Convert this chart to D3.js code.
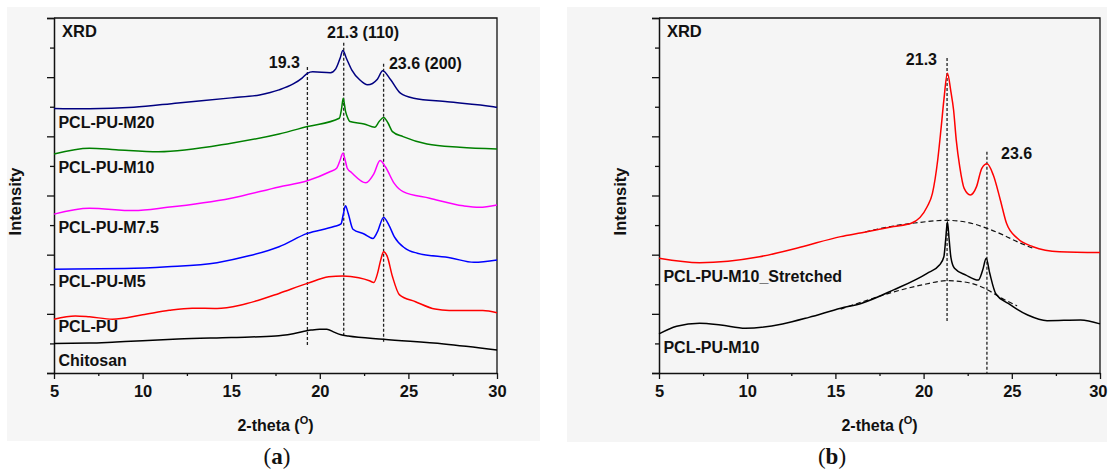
<!DOCTYPE html>
<html>
<head>
<meta charset="utf-8">
<script src="https://cdn.jsdelivr.net/npm/d3@7"></script>
<style>
  body { margin: 0; background: #fff; }
  svg { display: block; }
  text { font-family: "Liberation Sans", Arial, sans-serif; font-weight: bold; fill: #111; }
  .caption { font-family: "Liberation Serif", "Times New Roman", serif; font-weight: normal; }
</style>
</head>
<body>
<svg id="fig" width="1108" height="472"></svg>
<script>
// ---- XRD patterns: [2-theta (deg), intensity (a.u., stacked offset)] ----
const chitosan = [[5,1.00],[7,1.01],[8.5,1.05],[10,1.09],[12,1.15],[15,1.20],[17.5,1.25],[18.5,1.33],[19.5,1.45],[20,1.48],[20.4,1.48],[20.8,1.38],[21.2,1.29],[21.6,1.25],[23.6,1.14],[27,0.98],[30,0.78]];
const pclPU = [[5,1.82],[6.2,1.93],[7,1.90],[8.3,1.82],[10,1.97],[11.5,2.12],[12.8,2.19],[14.2,2.18],[15.5,2.29],[16.5,2.45],[17.7,2.69],[19.3,3.03],[20.5,3.25],[21.3,3.28],[22.2,3.22],[22.8,3.12],[23.05,3.06],[23.25,3.35],[23.45,3.85],[23.6,4.10],[23.8,3.95],[24.1,3.26],[24.5,2.64],[25.4,2.41],[26.5,2.16],[27.3,2.11],[29.2,2.11],[30,2.04]];
const pclPUM5 = [[5,3.51],[9,3.53],[11.4,3.59],[14.2,3.73],[16,3.96],[17.7,4.27],[19.3,4.72],[20.8,4.95],[21.2,5.04],[21.32,5.35],[21.45,5.65],[21.6,5.40],[21.87,4.86],[22.5,4.70],[23.0,4.55],[23.25,4.77],[23.6,5.26],[23.9,5.00],[24.2,4.61],[24.8,4.22],[25.5,4.05],[27.4,3.89],[28.7,3.74],[30,3.82]];
const pclPUM75 = [[5,5.37],[7,5.57],[9.5,5.49],[11.4,5.60],[15,5.91],[17.7,6.29],[19.3,6.50],[20.6,6.81],[20.95,6.92],[21.15,7.20],[21.3,7.43],[21.45,7.15],[21.55,6.92],[21.8,6.77],[22.6,6.43],[23.05,6.73],[23.4,7.18],[23.7,6.97],[24.2,6.41],[24.7,6.13],[26.2,5.91],[28.1,5.65],[29,5.60],[30,5.68]];
const pclPUM10 = [[5,7.40],[7,7.60],[8.5,7.55],[10.9,7.48],[15,7.77],[17.7,8.08],[19.3,8.33],[21.1,8.61],[21.22,8.90],[21.32,9.29],[21.45,8.85],[21.55,8.66],[21.7,8.50],[22.5,8.42],[23.1,8.31],[23.35,8.50],[23.6,8.64],[23.85,8.45],[24.1,8.16],[24.7,7.99],[26.05,7.74],[27.9,7.63],[30,7.57]];
const pclPUM20 = [[5,8.94],[7,8.93],[9.5,8.98],[12,9.13],[15,9.30],[16.6,9.40],[17.7,9.57],[18.5,9.77],[19,9.97],[19.3,10.13],[19.6,10.18],[20.6,10.15],[20.9,10.28],[21.15,10.65],[21.3,10.90],[21.5,10.64],[21.8,10.25],[22.25,9.91],[22.7,9.74],[23.25,9.93],[23.55,10.22],[24,9.91],[24.55,9.46],[25.3,9.29],[27.2,9.17],[29.8,9.00],[30,8.98]];

const m10Stretched = [[5,3.88],[7.3,3.73],[10.7,3.93],[13,4.25],[15.3,4.61],[16.5,4.74],[18.3,4.95],[19.3,5.06],[20.2,5.62],[20.5,6.07],[20.8,7.20],[21.0,8.33],[21.15,9.23],[21.35,10.13],[21.55,9.50],[21.7,8.89],[21.85,7.88],[22.05,6.97],[22.3,6.24],[22.65,6.02],[23.0,6.30],[23.3,6.92],[23.6,7.07],[23.95,6.69],[24.35,5.85],[24.7,5.06],[25.3,4.56],[26.2,4.27],[27.7,4.10],[30,4.07]];
const m10Unstretched = [[5,1.32],[6,1.58],[7.3,1.68],[8.5,1.62],[9.9,1.51],[12,1.66],[13.5,1.88],[15.3,2.19],[16.5,2.36],[18.3,2.81],[20.2,3.37],[20.9,3.65],[21.15,3.93],[21.25,4.50],[21.35,5.11],[21.45,4.50],[21.55,3.90],[21.75,3.54],[22.4,3.31],[23.1,3.14],[23.35,3.48],[23.55,3.88],[23.75,3.37],[24.1,2.67],[24.8,2.35],[25.9,1.96],[27.0,1.77],[28.9,1.79],[30,1.66]];
// amorphous halos under the crystalline peaks
const haloStretched = [[16.7,4.77],[18.3,4.97],[19.5,5.07],[21.3,5.16],[22.5,5.09],[23.6,4.89],[24.5,4.67],[25.3,4.44],[26.3,4.19]];
const haloUnstretched = [[15.3,2.16],[16.5,2.40],[18.3,2.74],[20,2.99],[21.3,3.12],[22.5,3.06],[23.6,2.82],[24.3,2.57],[25.3,2.27]];

// ---- peak markers: [2-theta, top, bottom] ----
const peaksA = [[19.3,10.34,0.88],[21.35,11.16,1.25],[23.6,10.45,1.01]];
const peaksB = [[21.33,10.65,1.69],[23.59,7.48,0]];

// ---- axes ----
const xMajor = [5,10,15,20,25,30];
const xMinor = [7.5,12.5,17.5,22.5,27.5];
const yTicks = d3.range(0,13);

const seriesA = [
  {name:"Chitosan",    data:chitosan, color:"#000000", lab:0.24},
  {name:"PCL-PU",      data:pclPU,    color:"#ff0000", lab:1.39},
  {name:"PCL-PU-M5",   data:pclPUM5,  color:"#0000ff", lab:2.91},
  {name:"PCL-PU-M7.5", data:pclPUM75, color:"#ff00ff", lab:4.73},
  {name:"PCL-PU-M10",  data:pclPUM10, color:"#008000", lab:6.76},
  {name:"PCL-PU-M20",  data:pclPUM20, color:"#000080", lab:8.28}
];
const seriesB = [
  {name:"PCL-PU-M10",           data:m10Unstretched, color:"#000000", lab:0.68},
  {name:"PCL-PU-M10_Stretched", data:m10Stretched,   color:"#ff0000", lab:3.08}
];

const svg = d3.select("#fig");
const plotTop = 18, plotBottom = 373;
const svgWidth = 1108;

// light panel backgrounds
svg.append("rect").attr("x",7).attr("y",7).attr("width",533).attr("height",434).attr("fill","#f6f6f6");
svg.append("rect").attr("x",567).attr("y",7).attr("width",540).attr("height",435).attr("fill","#f5f5f5");

function panel(left, right, series, peaks, notes, halos, caption, capX) {
  const x = d3.scaleLinear().domain([5,30]).range([left,right]);
  const y = d3.scaleLinear().domain([0,12]).range([plotBottom,plotTop]);
  const g = svg.append("g");

  // frame (top and right)
  g.append("path")
    .attr("d", `M${left},${plotTop}H${right}V${plotBottom}`)
    .attr("fill","none").attr("stroke","#111").attr("stroke-width",1.3);

  // y axis: long ticks on even values, short ticks between
  const yMinor = g.append("g").attr("transform",`translate(${left},0)`)
    .call(d3.axisLeft(y).tickValues(yTicks.filter(d=>d%2)).tickSize(4).tickFormat(""));
  yMinor.select(".domain").remove();
  const yMaj = g.append("g").attr("transform",`translate(${left},0)`)
    .call(d3.axisLeft(y).tickValues(yTicks.filter(d=>d%2===0)).tickSizeOuter(0).tickSize(7).tickFormat(""));
  [yMinor,yMaj].forEach(a => a.selectAll("line").attr("stroke","#111").attr("stroke-width",1.3));
  yMaj.select(".domain").attr("stroke","#111").attr("stroke-width",1.5);

  // x axis
  const xMin = g.append("g").attr("transform",`translate(0,${plotBottom})`)
    .call(d3.axisBottom(x).tickValues(xMinor).tickSize(3).tickFormat(""));
  xMin.select(".domain").remove();
  const xMaj = g.append("g").attr("transform",`translate(0,${plotBottom})`)
    .call(d3.axisBottom(x).tickValues(xMajor).tickSize(6).tickSizeOuter(0).tickPadding(6));
  [xMin,xMaj].forEach(a => a.selectAll("line").attr("stroke","#111").attr("stroke-width",1.3));
  xMaj.select(".domain").attr("stroke","#111").attr("stroke-width",1.5);
  xMaj.selectAll("text").attr("font-size",16.5).attr("font-family","Liberation Sans, Arial, sans-serif")
    .attr("font-weight","bold").attr("fill","#111");
  // keep the last tick label inside the page edge
  xMaj.selectAll("text").each(function() {
    const b = this.getBBox();
    const tickX = x(+d3.select(this).datum());
    const over = tickX + b.x + b.width - (svgWidth - 1);
    if (over > 0) d3.select(this).attr("dx", -over);
  });

  const line = d3.line().x(d=>x(d[0])).y(d=>y(d[1])).curve(d3.curveMonotoneX);

  // halos
  halos.forEach(h => g.append("path").attr("d", line(h))
    .attr("fill","none").attr("stroke","#111").attr("stroke-width",1.2).attr("stroke-dasharray","5,3"));

  // peak position markers
  peaks.forEach(p => g.append("line")
    .attr("x1",x(p[0])).attr("x2",x(p[0])).attr("y1",y(p[1])).attr("y2",y(p[2]))
    .attr("stroke","#222").attr("stroke-width",1.3).attr("stroke-dasharray","3,2"));

  // patterns
  series.forEach(s => {
    g.append("path").attr("d", line(s.data))
      .attr("fill","none").attr("stroke",s.color).attr("stroke-width",1.5);
    g.append("text").attr("x",x(5.25)).attr("y",y(s.lab)).attr("font-size",16).text(s.name);
  });

  // annotations
  notes.forEach(n => g.append("text").attr("x",x(n.t)).attr("y",y(n.v))
    .attr("text-anchor",n.a).attr("font-size",16).text(n.s));
  g.append("text").attr("x",x(5.45)).attr("y",y(11.35)).attr("font-size",16.5).text("XRD");

  // axis titles
  const xt = g.append("text").attr("x",(left+right)/2).attr("y",431)
    .attr("text-anchor","middle").attr("font-size",16);
  xt.append("tspan").text("2-theta (");
  xt.append("tspan").attr("font-size",11).attr("dy",-7).text("O");
  xt.append("tspan").attr("dy",7).text(")");

  g.append("text").attr("transform",`translate(${left-33},${(plotTop+plotBottom)/2+6}) rotate(-90)`)
    .attr("text-anchor","middle").attr("font-size",16.5).text("Intensity");

  const c = svg.append("text").attr("class","caption").attr("x",capX).attr("y",464)
    .attr("text-anchor","middle").attr("font-size",23);
  c.append("tspan").text("(");
  c.append("tspan").attr("font-weight","bold").text(caption);
  c.append("tspan").text(")");
}

panel(54, 497, seriesA, peaksA, [
  {t:18.88, v:10.31, a:"end",    s:"19.3"},
  {t:22.44, v:11.33, a:"middle", s:"21.3 (110)"},
  {t:23.9,  v:10.28, a:"start",  s:"23.6 (200)"}
], [], "a", 277);

panel(659, 1100, seriesB, peaksB, [
  {t:20.76, v:10.41, a:"end",   s:"21.3"},
  {t:24.39, v:7.23,  a:"start", s:"23.6"}
], [haloStretched, haloUnstretched], "b", 832);
</script>
</body>
</html>
